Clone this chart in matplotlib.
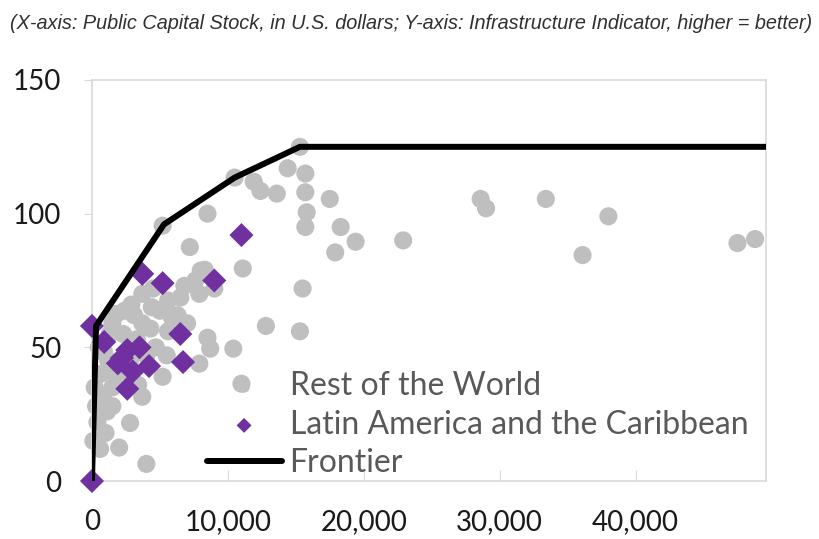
import matplotlib
matplotlib.use('Agg')
import matplotlib.pyplot as plt
from matplotlib.ticker import FuncFormatter

# Rest of the World: public capital stock (US$) vs infrastructure indicator
row_x = [15300, 14400, 15700, 11900, 10500, 12400, 13600, 15700, 17500, 15800,
         15700, 18300, 19400, 17900, 22900, 28600, 29000, 33400, 38000, 36100,
         47500, 48800, 15500, 12800, 15300, 11100, 8500, 5200, 7200, 8000,
         3700, 4500, 5600, 6500, 7900, 2900, 5000, 3700, 1800, 1500,
         2400, 5900, 5600, 7600, 8500, 8700, 10400, 11000, 7900, 5200,
         3700, 2800, 2000, 100, 4000, 1100, 1500, 2300, 3300, 4300,
         4000, 2800, 1200, 600, 800, 400, 300, 600, 1000, 1500,
         200, 900, 1700, 2500, 3400, 4700, 5500, 6300, 7000, 3100,
         4400, 6800, 8300, 9000, 500, 1300]
row_y = [125, 117, 115, 112, 113.5, 108.5, 107.5, 108, 105.5, 100.5,
         95, 95, 89.5, 85.5, 90, 105.5, 102, 105.5, 99, 84.5,
         89, 90.5, 72, 58, 56, 79.5, 100, 95.5, 87.5, 78.7,
         70, 72, 67.5, 68.6, 70, 66, 63.7, 59, 62.5, 59,
         63.7, 61, 56, 75, 53.6, 49.5, 49.5, 36.4, 43.9, 39,
         31.5, 21.7, 12.5, 15, 6.4, 26, 35, 55, 53, 57,
         47, 45, 45, 40, 32, 22, 28, 12, 18, 28,
         35, 48, 40, 38, 36, 50, 47, 62, 59, 62,
         65, 73, 79, 72, 50, 55]

# Latin America and the Caribbean
lac_x = [0, 0, 900, 1900, 2600, 3500, 3000, 4200, 2600, 6500,
         6700, 11000, 3700, 5200, 9000, 2200]
lac_y = [0, 58, 52, 44, 49, 50, 41, 43, 34.5, 55,
         44.5, 92, 77.5, 74, 75, 46]

# efficiency frontier
front_x = [0, 300, 5300, 10500, 15300, 49600]
front_y = [0, 58, 96, 113.5, 125, 125]

x_ticks = [0, 10000, 20000, 30000, 40000]
y_ticks = [0, 50, 100, 150]

plt.rcParams['font.family'] = ['Lato', 'DejaVu Sans']

fig = plt.figure(figsize=(8.19, 5.39), dpi=100)
ax = fig.add_axes([0.1123, 0.1076, 0.8230, 0.7440])

ax.scatter(row_x, row_y, s=170, color='#BFBFBF', edgecolors='none',
           label='Rest of the World', zorder=2, clip_on=False)
ax.scatter(lac_x, lac_y, s=150, marker='D', color='#7030A0', edgecolors='none',
           label='Latin America and the Caribbean', zorder=3, clip_on=False)
ax.plot(front_x, front_y, color='black', lw=4.3, solid_capstyle='round',
        label='Frontier', zorder=4)

ax.set_xlim(0, 49600)
ax.set_ylim(0, 150)
ax.set_xticks(x_ticks)
ax.set_yticks(y_ticks)
ax.xaxis.set_major_formatter(FuncFormatter(lambda v, p: f'{int(v):,}'))

for s in ax.spines.values():
    s.set_color('#D9D9D9')
    s.set_linewidth(1.2)
ax.tick_params(axis='y', direction='out', length=6, color='#D9D9D9',
               labelsize=20, pad=16, labelcolor='#1a1a1a')
ax.tick_params(axis='x', direction='in', length=8, color='#D9D9D9',
               labelsize=20, pad=20, labelcolor='#1a1a1a')

leg = ax.legend(loc='upper left', bbox_to_anchor=(0.151, 0.305), frameon=False,
                fontsize=23, labelcolor='#595959', handlelength=2.35,
                handletextpad=0.25, labelspacing=0.26, borderaxespad=0,
                markerscale=0.62)

fig.text(0.502, 0.957, '(X-axis: Public Capital Stock, in U.S. dollars; '
         'Y-axis: Infrastructure Indicator, higher = better)',
         ha='center', va='center', fontsize=14.3, style='italic',
         color='#303030', family=['Liberation Sans', 'DejaVu Sans'])

fig.savefig('out.png', dpi=100)
